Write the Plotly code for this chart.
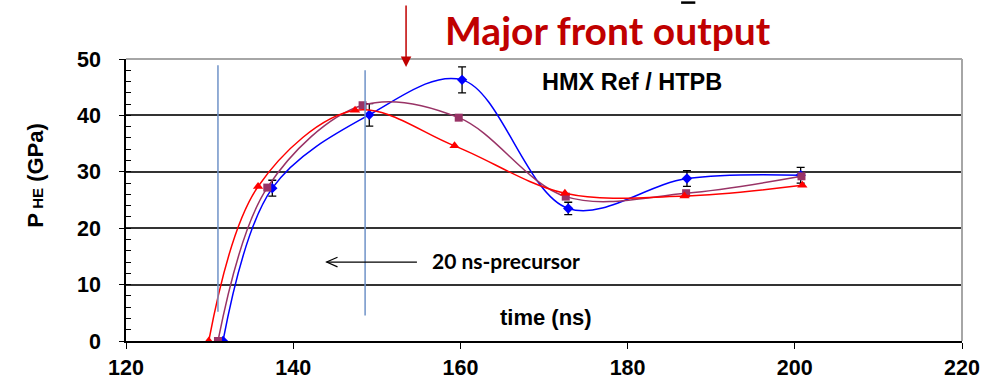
import plotly.graph_objects as go

# Pressure histories P_HE (GPa) vs time (ns), HMX Ref / HTPB
time_blue = [131.6, 137.5, 149.1, 160.2, 172.9, 187.1, 200.7]
p_blue = [0, 27.1, 40.1, 46.3, 23.5, 28.8, 29.4]
err_blue = [None, 1.4, 2.0, 2.3, 1.1, 1.4, 1.4]

time_purple = [131.0, 136.9, 148.3, 159.8, 172.6, 187.0, 200.8]
p_purple = [0, 27.2, 41.8, 39.6, 25.6, 26.2, 29.2]

time_red = [129.9, 135.8, 147.4, 159.3, 172.5, 186.8, 200.9]
p_red = [0, 27.4, 40.9, 34.6, 26.2, 25.7, 27.6]

# Precursor window markers (time, bottom, top)
precursor_t = [131.0, 148.6]
precursor_lo = [5.2, 4.5]
precursor_hi = [48.9, 48.0]

x_ticks = [120, 140, 160, 180, 200, 220]
y_ticks = [0, 10, 20, 30, 40, 50]

BLUE = "#0000FF"
PURPLE = "#993366"
RED = "#FF0000"
DARKRED = "#C00000"
TICKFONT = dict(family="Liberation Sans", size=21.5, color="black", weight="bold")

fig = go.Figure()

fig.add_trace(go.Scatter(
    x=time_blue, y=p_blue, mode="lines+markers",
    line=dict(color=BLUE, width=1.5, shape="spline", smoothing=1.0),
    marker=dict(symbol="diamond", size=8, color=BLUE),
    error_y=dict(type="data", array=err_blue, color="black", thickness=1.3, width=4),
    showlegend=False))
fig.add_trace(go.Scatter(
    x=time_purple, y=p_purple, mode="lines+markers",
    line=dict(color=PURPLE, width=1.5, shape="spline", smoothing=1.0),
    marker=dict(symbol="square", size=8, color=PURPLE),
    showlegend=False))
fig.add_trace(go.Scatter(
    x=time_red, y=p_red, mode="lines+markers",
    line=dict(color=RED, width=1.5, shape="spline", smoothing=1.0),
    marker=dict(symbol="triangle-up", size=9, color=RED),
    showlegend=False))

shapes = []
for t, lo, hi in zip(precursor_t, precursor_lo, precursor_hi):
    shapes.append(dict(type="line", xref="x", yref="y", x0=t, x1=t, y0=lo, y1=hi,
                       line=dict(color="#6F93C8", width=1.5), layer="above"))
# top and right frame in grey
shapes.append(dict(type="line", xref="paper", yref="paper", x0=0, x1=1, y0=1, y1=1,
                   line=dict(color="#A6A6A6", width=2), layer="above"))
shapes.append(dict(type="line", xref="paper", yref="paper", x0=1, x1=1, y0=0, y1=1,
                   line=dict(color="#A6A6A6", width=2), layer="above"))
# open-headed arrow pointing back over the precursor window
shapes.append(dict(type="line", xref="x", yref="y", x0=154.8, x1=144.0, y0=14.0, y1=14.0,
                   line=dict(color="black", width=1.2)))
shapes.append(dict(type="path", xref="x", yref="y",
                   path="M 145.3,14.85 L 144.0,14.0 L 145.3,13.15",
                   line=dict(color="black", width=1.2)))
# short dark tick above the headline
shapes.append(dict(type="line", xref="paper", yref="paper", x0=0.664, x1=0.681, y0=1.2, y1=1.2,
                   line=dict(color="black", width=2.5)))

annotations = [
    dict(x=180.5, y=46.0, xref="x", yref="y", text="<b>HMX Ref / HTPB</b>", showarrow=False,
         font=dict(family="Liberation Sans", size=23.5, color="black")),
    dict(x=170.2, y=4.25, xref="x", yref="y", text="<b>time (ns)</b>", showarrow=False,
         font=dict(family="Liberation Sans", size=22, color="black")),
    dict(x=156.4, y=14.3, xref="x", yref="y", text="<b>20 ns-precursor</b>", showarrow=False,
         xanchor="left", font=dict(family="Lato", size=21, color="black")),
    dict(x=-0.126, y=0.587, xref="paper", yref="paper", textangle=-90, showarrow=False,
         text="<b>P<span style='font-size:15px'> HE</span> (GPa)</b>",
         font=dict(family="Liberation Sans", size=22, color="black")),
    dict(x=0.577, y=1.19, xref="paper", yref="paper", showarrow=False,
         text="<b>Major front output</b>",
         font=dict(family="Lato", size=39, color=DARKRED)),
    dict(x=153.5, y=48.6, xref="x", yref="y", text="", showarrow=True,
         ax=0, ay=-63, arrowhead=2, arrowsize=1.4, arrowwidth=1.5, arrowcolor=DARKRED),
]

fig.update_layout(
    width=984, height=378,
    margin=dict(l=126, r=22, t=59, b=37),
    paper_bgcolor="white", plot_bgcolor="white",
    shapes=shapes, annotations=annotations,
    xaxis=dict(range=[120, 220], tickvals=x_ticks, ticktext=[str(v) for v in x_ticks],
               showgrid=False, zeroline=False, showline=True, linecolor="black", linewidth=1.5,
               ticks="outside", ticklen=6, tickwidth=1.3, tickcolor="black",
               tickfont=TICKFONT, ticklabelstandoff=0, automargin=False),
    yaxis=dict(range=[0, 50], tickvals=y_ticks, ticktext=[str(v) for v in y_ticks],
               showgrid=True, gridcolor="#333333", gridwidth=1.5, zeroline=False,
               showline=True, linecolor="black", linewidth=1.5,
               ticks="outside", ticklen=5, tickwidth=1.3, tickcolor="black",
               minor=dict(ticks="inside", dtick=2, ticklen=5, tickcolor="black", tickwidth=1, showgrid=False),
               tickfont=TICKFONT, ticklabelstandoff=14, automargin=False),
)

fig.write_html("out.html")
